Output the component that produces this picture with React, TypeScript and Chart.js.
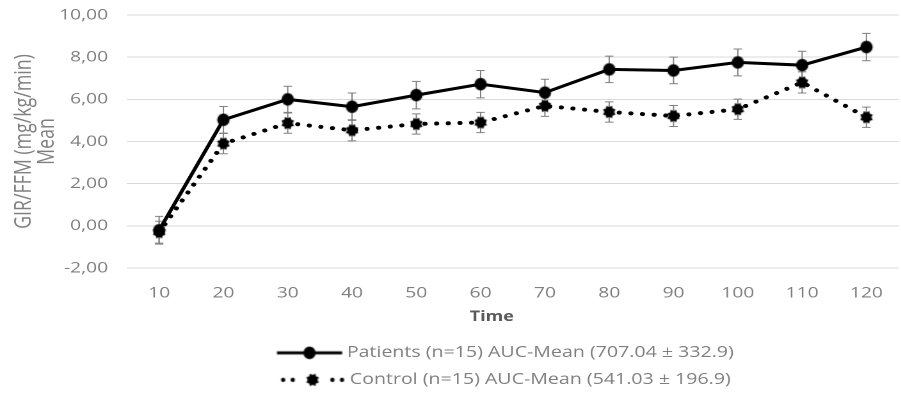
import React, { useEffect, useRef } from "react";
import { Chart, registerables } from "chart.js";

Chart.register(...registerables);

// ---------- data ----------
const categories = ["10", "20", "30", "40", "50", "60", "70", "80", "90", "100", "110", "120"];
const patientsMean = [-0.21, 5.03, 6.0, 5.65, 6.2, 6.72, 6.32, 7.42, 7.37, 7.75, 7.62, 8.48];
const patientsErr = [0.66, 0.63, 0.62, 0.65, 0.65, 0.65, 0.63, 0.63, 0.63, 0.64, 0.66, 0.65];
const controlMean = [-0.3, 3.9, 4.87, 4.53, 4.83, 4.9, 5.69, 5.4, 5.21, 5.53, 6.8, 5.15];
const controlErr = [0.52, 0.48, 0.48, 0.5, 0.48, 0.48, 0.5, 0.48, 0.5, 0.48, 0.5, 0.48];
const seriesLabels = [
  "Patients (n=15) AUC-Mean (707.04 ± 332.9)",
  "Control (n=15) AUC-Mean (541.03 ± 196.9)",
];
const yTitle = ["GIR/FFM (mg/kg/min)", "Mean"];
const xTitle = "Time";
const yMin = -2;
const yMax = 10;
const yStep = 2;

// ---------- look ----------
const SX = 1.28; // horizontal stretch of the whole picture
const W = 712;
const H = 400;
const FONT = "'Open Sans', 'Noto Sans', sans-serif";
const GRAY = "#7f7f7f";
const LEG_SHIFT = 4.7;

function makeCanvas(w: number, h: number) {
  const c = document.createElement("canvas");
  c.width = Math.round(w * 2);
  c.height = Math.round(h * 2);
  const ctx = c.getContext("2d")!;
  ctx.scale(2, 2);
  return { c, ctx };
}

function starPath(ctx: CanvasRenderingContext2D, cx: number, cy: number) {
  ctx.save();
  ctx.translate(cx, cy);
  ctx.scale(1 / SX, 1);
  ctx.beginPath();
  const n = 8;
  for (let i = 0; i < n * 2; i++) {
    const r = i % 2 === 0 ? 6.8 : 4.9;
    const a = (i * Math.PI) / n + Math.PI / 8;
    const x = Math.cos(a) * r;
    const y = Math.sin(a) * r;
    if (i === 0) ctx.moveTo(x, y);
    else ctx.lineTo(x, y);
  }
  ctx.closePath();
  ctx.fillStyle = "#000";
  ctx.fill();
  ctx.restore();
}

function circlePath(ctx: CanvasRenderingContext2D, cx: number, cy: number, r: number) {
  ctx.save();
  ctx.translate(cx, cy);
  ctx.scale(1 / SX, 1);
  ctx.beginPath();
  ctx.arc(0, 0, r, 0, Math.PI * 2);
  ctx.fillStyle = "#000";
  ctx.fill();
  ctx.restore();
}

function scaledImage(w: number, h: number, draw: (ctx: CanvasRenderingContext2D) => void) {
  const { c, ctx } = makeCanvas(w, h);
  draw(ctx);
  const out = document.createElement("canvas");
  out.width = w;
  out.height = h;
  const octx = out.getContext("2d")!;
  octx.drawImage(c, 0, 0, w, h);
  return out;
}

function markerCircle() {
  return scaledImage(11, 14, (ctx) => circlePath(ctx, 5.5, 7, 6.2));
}
function markerStar() {
  return scaledImage(11, 14, (ctx) => starPath(ctx, 5.5, 7));
}
function legendPatients() {
  return scaledImage(68, 14, (ctx) => {
    ctx.strokeStyle = "#000";
    ctx.lineWidth = 3;
    ctx.beginPath();
    ctx.moveTo(LEG_SHIFT, 7);
    ctx.lineTo(LEG_SHIFT + 51, 7);
    ctx.stroke();
    circlePath(ctx, LEG_SHIFT + 25.5, 7, 6.2);
  });
}
function legendControl() {
  return scaledImage(68, 14, (ctx) => {
    [-23, -15.5, 15.5, 23].forEach((d) => circlePath(ctx, LEG_SHIFT + 25.5 + d, 7, 2.1));
    starPath(ctx, LEG_SHIFT + 25.5, 7);
  });
}

const errorBars = {
  id: "errorBars",
  beforeDatasetsDraw(chart: any) {
    const { ctx, scales } = chart;
    const x = scales.x;
    const y = scales.y;
    ctx.save();
    ctx.strokeStyle = "#808080";
    ctx.lineWidth = 1;
    const sets: [number[], number[]][] = [
      [patientsMean, patientsErr],
      [controlMean, controlErr],
    ];
    sets.forEach(([m, e]) => {
      m.forEach((v, i) => {
        const px = x.getPixelForValue(i);
        const t = y.getPixelForValue(v + e[i]);
        const b = y.getPixelForValue(v - e[i]);
        const cw = 3.3;
        ctx.beginPath();
        ctx.moveTo(px, t);
        ctx.lineTo(px, b);
        ctx.moveTo(px - cw, t);
        ctx.lineTo(px + cw, t);
        ctx.moveTo(px - cw, b);
        ctx.lineTo(px + cw, b);
        ctx.stroke();
      });
    });
    ctx.restore();
  },
};

export default function App() {
  const ref = useRef<HTMLCanvasElement>(null);

  useEffect(() => {
    const legendImgs = [legendPatients(), legendControl()];
    const chart = new Chart(ref.current!, {
      type: "line",
      data: {
        labels: categories,
        datasets: [
          {
            label: seriesLabels[0],
            data: patientsMean,
            borderColor: "#000",
            backgroundColor: "#000",
            borderWidth: 3,
            pointStyle: markerCircle() as any,
            pointRadius: 6,
            tension: 0,
          },
          {
            label: seriesLabels[1],
            data: controlMean,
            borderColor: "#000",
            backgroundColor: "#000",
            borderWidth: 4,
            borderDash: [0.01, 9.1],
            borderCapStyle: "round",
            pointStyle: markerStar() as any,
            pointRadius: 6,
            tension: 0,
          },
        ],
      },
      options: {
        animation: false,
        responsive: false,
        devicePixelRatio: 2,
        layout: { padding: { top: 15, bottom: 2.5, left: 0, right: 1 } },
        plugins: {
          tooltip: { enabled: false },
          legend: {
            position: "bottom",
            fullSize: false,
            labels: {
              usePointStyle: true,
              pointStyleWidth: 26 + 2 * LEG_SHIFT,
              padding: 11.7,
              color: GRAY,
              font: { family: FONT, size: 15.3 },
              generateLabels: (ch: any) => {
                const items = (Chart.defaults.plugins.legend.labels as any).generateLabels(ch);
                items.forEach((it: any, i: number) => {
                  it.pointStyle = legendImgs[i];
                  it.rotation = 0;
                });
                return items;
              },
            },
          },
        },
        scales: {
          x: {
            offset: true,
            grid: { display: false, drawTicks: false },
            border: { display: false },
            ticks: { color: GRAY, padding: 16, font: { family: FONT, size: 15 } },
            title: {
              display: true,
              text: xTitle + "\u00a0".repeat(9),
              color: "#595959",
              font: { family: FONT, size: 14, weight: "bold" },
              padding: { top: 0, bottom: 8.1 },
            },
            afterFit: (s: any) => {
              s.height = 65.5;
            },
          },
          y: {
            min: yMin,
            max: yMax,
            grid: { color: "#d9d9d9", lineWidth: 1, drawTicks: false },
            border: { display: false },
            ticks: {
              stepSize: yStep,
              padding: 14.8,
              color: GRAY,
              font: { family: FONT, size: 15 },
              callback: (v: any) => Number(v).toFixed(2).replace(".", ","),
            },
            title: {
              display: true,
              text: yTitle,
              color: GRAY,
              font: { family: FONT, size: 17.8, lineHeight: 1.01 },
              padding: { top: 9.75, bottom: 0 },
            },
            afterFit: (s: any) => {
              s.width = 99.2;
              s.paddingTop = 0;
              s.paddingBottom = 0;
            },
          },
        },
      },
      plugins: [errorBars],
    });
    return () => chart.destroy();
  }, []);

  return (
    <div
      style={{
        position: "fixed",
        left: 0,
        top: 0,
        width: 901,
        height: 393,
        overflow: "hidden",
        background: "#fff",
      }}
    >
      <div style={{ width: W, height: H, transform: `scaleX(${SX})`, transformOrigin: "0 0" }}>
        <canvas ref={ref} width={W} height={H} style={{ display: "block", width: W, height: H }} />
      </div>
    </div>
  );
}
